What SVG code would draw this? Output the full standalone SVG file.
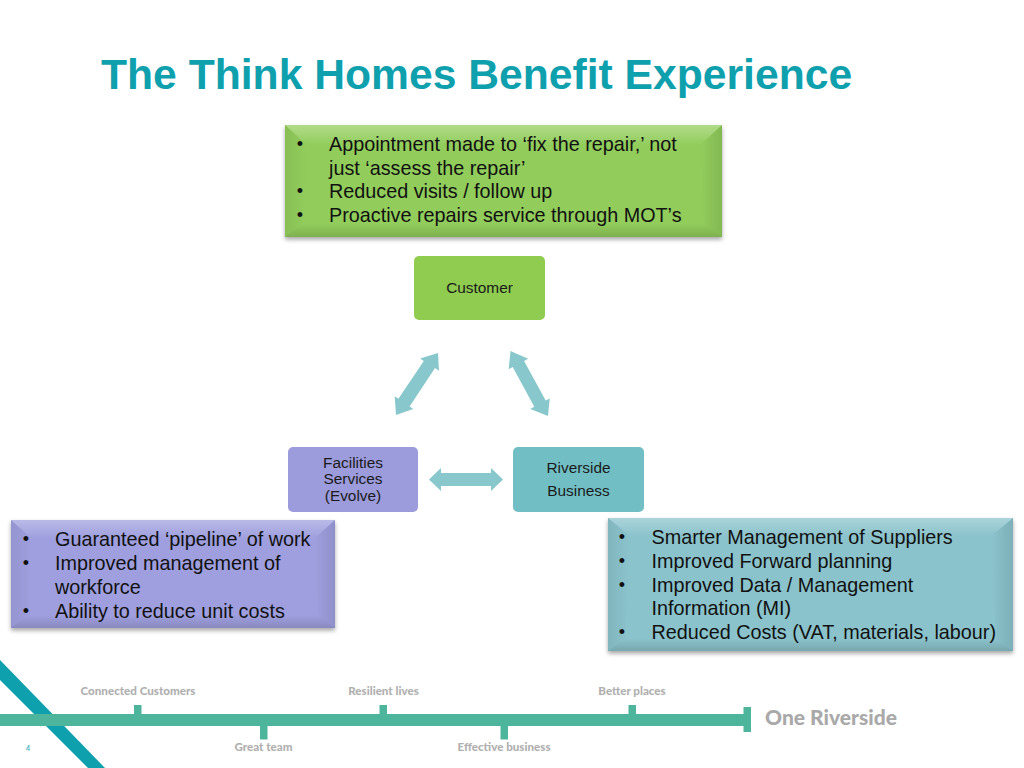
<svg xmlns="http://www.w3.org/2000/svg" width="1024" height="768" viewBox="0 0 1024 768">
<style>
.t{font-family:"Liberation Sans",Arial,sans-serif}
.b{font-size:19.8px;fill:#111}
.d{font-size:18px;fill:#111;text-anchor:middle}
.n{font-size:15.4px;fill:#1a1a1a;text-anchor:middle}
.f{font-family:"Lato","Open Sans",sans-serif;font-weight:900;fill:#b0b0b0;font-size:11.600px;text-anchor:middle}
.ar{fill:#88c8cc}
.bar{fill:#4cb59b}
</style>
<defs>
<filter id="s" x="-5%" y="-10%" width="110%" height="125%"><feDropShadow dx="0" dy="2.5" stdDeviation="2" flood-color="#000" flood-opacity=".35"/></filter>
<linearGradient id="top" x1="0" y1="0" x2="0" y2="1"><stop offset="0" stop-color="#fff" stop-opacity=".28"/><stop offset="1" stop-color="#fff" stop-opacity="0"/></linearGradient>
<linearGradient id="bot" x1="0" y1="1" x2="0" y2="0"><stop offset="0" stop-color="#000" stop-opacity=".14"/><stop offset="1" stop-color="#000" stop-opacity="0"/></linearGradient>
<linearGradient id="lft" x1="0" y1="0" x2="1" y2="0"><stop offset="0" stop-color="#000" stop-opacity=".07"/><stop offset="1" stop-color="#000" stop-opacity="0"/></linearGradient>
<linearGradient id="rgt" x1="1" y1="0" x2="0" y2="0"><stop offset="0" stop-color="#000" stop-opacity=".1"/><stop offset="1" stop-color="#000" stop-opacity="0"/></linearGradient>
</defs>
<rect width="1024" height="768" fill="#fff"/>
<text id="title" class="t" x="101" y="89" font-weight="700" font-size="42.650" fill="#0fa0ae">The Think Homes Benefit Experience</text>

<g id="footer-diagonal"><polygon points="0,660 105,768 88,768 0,680" fill="#0fa0ae"/></g>

<g id="box-customer-benefits">
<rect x="285" y="125" width="437" height="112" fill="#92cd5b" filter="url(#s)"/>
<polygon fill="url(#top)" points="285,125 722,125 700,145 307,145"/>
<polygon fill="url(#bot)" points="285,237 722,237 704,223 303,223"/>
<polygon fill="url(#lft)" points="285,125 307,145 303,223 285,237"/>
<polygon fill="url(#rgt)" points="722,125 700,145 704,223 722,237"/>
<text class="t d" x="300" y="150">•</text><text class="t b" x="329" y="151">Appointment made to ‘fix the repair,’ not</text>
<text class="t b" x="329" y="175">just ‘assess the repair’</text>
<text class="t d" x="300" y="197">•</text><text class="t b" x="329" y="198">Reduced visits / follow up</text>
<text class="t d" x="300" y="221">•</text><text class="t b" x="329" y="222">Proactive repairs service through MOT’s</text>
</g>

<g id="node-customer">
<rect x="414" y="256" width="131" height="64" rx="5" fill="#8fcc50"/>
<text class="t n" x="479.500" y="293">Customer</text>
</g>
<g id="node-facilities">
<rect x="288" y="447" width="130" height="65" rx="5" fill="#9c9bdc"/>
<text class="t n" x="353" y="468">Facilities</text>
<text class="t n" x="353" y="484">Services</text>
<text class="t n" x="353" y="501">(Evolve)</text>
</g>
<g id="node-riverside">
<rect x="513" y="447" width="131" height="65" rx="5" fill="#71bfc4"/>
<text class="t n" x="578.500" y="473">Riverside</text>
<text class="t n" x="578.500" y="496">Business</text>
</g>

<g id="connectors">
<polygon class="ar" points="429,479.500 441,468 441,473 491,473 491,468 503,479.500 491,491 491,486 441,486 441,491"/>
<polygon class="ar" points="438,353 439,370.700 435,368 409.600,406.400 413.300,409 396,415 394.700,396.300 398.400,398.800 423.800,361 420.100,358.500"/>
<polygon class="ar" points="510.500,351 528.100,358.700 524.100,360.900 545.700,400.600 549.700,398.400 548,416 530.300,409 534.300,406.800 512.700,367.100 508.700,369.300"/>
</g>

<g id="box-facilities-benefits">
<rect x="11" y="520" width="324" height="108" fill="#9f9fdf" filter="url(#s)"/>
<polygon fill="url(#top)" points="11,520 335,520 315,538 31,538"/>
<polygon fill="url(#bot)" points="11,628 335,628 318,615 28,615"/>
<polygon fill="url(#lft)" points="11,520 31,538 28,615 11,628"/>
<polygon fill="url(#rgt)" points="335,520 315,538 318,615 335,628"/>
<text class="t d" x="26" y="545">•</text><text class="t b" x="55" y="546">Guaranteed ‘pipeline’ of work</text>
<text class="t d" x="26" y="569">•</text><text class="t b" x="55" y="570">Improved management of</text>
<text class="t b" x="55" y="594">workforce</text>
<text class="t d" x="26" y="617">•</text><text class="t b" x="55" y="618">Ability to reduce unit costs</text>
</g>

<g id="box-riverside-benefits">
<rect x="608" y="518" width="405" height="133" fill="#8bc3cc" filter="url(#s)"/>
<polygon fill="url(#top)" points="608,518 1013,518 991,536 630,536"/>
<polygon fill="url(#bot)" points="608,651 1013,651 996,638 625,638"/>
<polygon fill="url(#lft)" points="608,518 630,536 625,638 608,651"/>
<polygon fill="url(#rgt)" points="1013,518 991,536 996,638 1013,651"/>
<text class="t d" x="622" y="543">•</text><text class="t b" x="651.500" y="544">Smarter Management of Suppliers</text>
<text class="t d" x="622" y="567">•</text><text class="t b" x="651.500" y="568">Improved Forward planning</text>
<text class="t d" x="622" y="591">•</text><text class="t b" x="651.500" y="592">Improved Data / Management</text>
<text class="t b" x="651.500" y="615">Information (MI)</text>
<text class="t d" x="622" y="638">•</text><text class="t b" x="651.500" y="639">Reduced Costs (VAT, materials, labour)</text>
</g>

<g id="footer">
<rect class="bar" x="0" y="714" width="746" height="12"/>
<rect class="bar" x="743.500" y="707" width="7.500" height="25"/>
<rect class="bar" x="134" y="705" width="7.500" height="10"/>
<rect class="bar" x="379.500" y="705" width="7.500" height="10"/>
<rect class="bar" x="628.500" y="705" width="7.500" height="10"/>
<rect class="bar" x="260" y="725" width="7.500" height="14.500"/>
<rect class="bar" x="500.500" y="725" width="7.500" height="14.500"/>
<text class="f" x="138" y="694.500">Connected Customers</text>
<text class="f" x="383.500" y="694.500">Resilient lives</text>
<text class="f" x="632" y="694.500">Better places</text>
<text class="f" x="263.500" y="750.500">Great team</text>
<text class="f" x="504" y="750.500">Effective business</text>
<text x="831" y="725" font-family="Lato, Open Sans, sans-serif" font-weight="900" font-size="21" fill="#a9a9a9" text-anchor="middle">One Riverside</text>
<text x="28" y="751" font-family="Lato, Open Sans, sans-serif" font-weight="700" font-size="7" fill="#4fb5c4" text-anchor="middle">4</text>
</g>
</svg>
